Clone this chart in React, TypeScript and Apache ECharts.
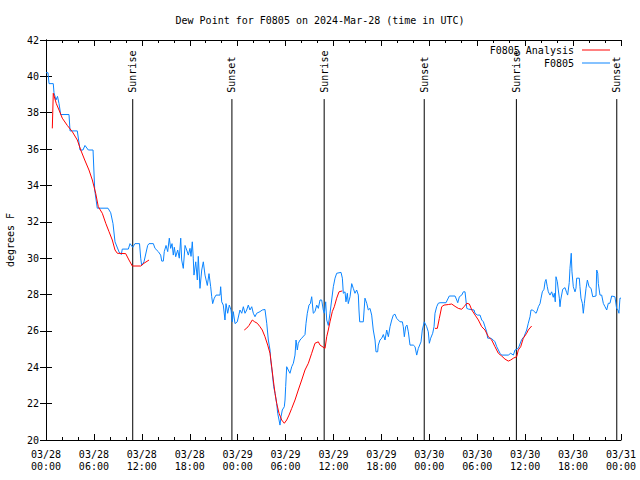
import React, { useEffect, useRef } from "react";
import * as echarts from "echarts";

const FONT = "DejaVu Sans Mono";

const titleText = "Dew Point for F0805 on 2024-Mar-28 (time in UTC)";
const yName = "degrees F";
const dayLabels = ["03/28", "03/29", "03/30", "03/31"];

// hours since 03/28 00:00 UTC
const sunTimes = [10.86, 23.28, 34.83, 47.36, 58.9, 71.47];
const sunLabels = ["Sunrise", "Sunset", "Sunrise", "Sunset", "Sunrise", "Sunset"];

// F0805 observations [hour, dew point F]
const obs: number[][] = [
  [0.0, 40.2], [0.25, 40.2], [0.38, 39.6], [0.91, 39.6], [1.0, 39.1], [1.25, 38.7], [1.44, 38.9],
  [1.63, 38.5], [1.84, 37.9], [2.88, 37.9], [3.01, 37.0], [3.92, 37.0], [4.26, 35.95], [4.63, 35.95],
  [4.88, 36.2], [5.3, 35.95], [5.89, 35.95], [6.1, 33.75], [6.42, 32.75], [7.76, 32.75], [8.1, 32.5],
  [8.39, 31.9], [8.64, 30.9], [9.14, 30.35], [9.43, 30.2], [9.55, 30.5], [10.31, 30.5], [10.52, 30.8],
  [10.86, 30.6], [11.14, 30.8], [11.71, 30.8], [11.86, 30.0], [11.98, 29.6], [12.27, 29.8], [12.73, 30.7],
  [12.9, 30.8], [13.44, 30.8], [13.65, 30.54], [14.06, 30.36], [14.36, 30.17], [14.49, 29.84], [14.69, 29.84],
  [14.81, 30.36], [15.03, 30.7], [15.24, 30.36], [15.44, 31.1], [15.61, 30.54], [15.78, 30.8], [15.94, 30.17],
  [16.07, 30.6], [16.24, 30.08], [16.49, 30.45], [16.69, 30.0], [16.87, 31.1], [16.99, 29.9], [17.19, 29.44],
  [17.41, 30.7], [17.62, 30.45], [17.82, 30.17], [18.03, 30.54], [18.16, 30.1], [18.32, 30.9], [18.44, 30.0],
  [18.53, 29.07], [18.75, 29.8], [18.95, 28.8], [19.07, 30.1], [19.28, 28.34], [19.5, 29.35], [19.7, 29.8],
  [19.91, 29.07], [20.2, 28.5], [20.41, 29.15], [20.62, 28.43], [20.75, 27.88], [20.87, 27.5], [21.07, 27.8],
  [21.29, 27.97], [21.79, 27.97], [21.87, 28.43], [22.0, 27.6], [22.2, 27.42], [22.41, 26.6], [22.54, 27.5],
  [22.75, 26.97], [22.95, 27.42], [23.17, 27.15], [23.33, 26.5], [23.45, 27.06], [23.67, 26.4], [23.95, 26.5],
  [24.29, 27.15], [24.51, 26.97], [24.71, 27.33], [24.92, 26.97], [25.13, 27.15], [25.33, 27.42], [25.54, 27.15],
  [25.76, 27.33], [25.96, 26.97], [26.17, 26.78], [26.38, 26.97], [26.8, 27.06], [27.08, 27.15], [27.42, 27.18],
  [27.64, 26.42], [27.84, 25.5], [28.05, 24.95], [28.14, 24.4], [28.34, 23.67], [28.51, 22.93], [28.68, 22.57],
  [28.89, 22.0], [29.01, 21.47], [29.18, 21.1], [29.3, 20.82], [29.43, 21.28], [29.59, 21.65], [29.84, 21.83],
  [29.93, 22.2], [30.01, 22.93], [30.14, 24.03], [30.34, 23.85], [30.55, 23.67], [30.77, 24.03], [30.97, 24.22],
  [31.18, 24.67], [31.31, 25.5], [31.47, 24.95], [31.59, 25.32], [31.81, 25.5], [32.02, 25.6], [32.43, 25.8],
  [32.56, 26.42], [32.72, 26.97], [32.93, 27.42], [33.1, 27.5], [33.27, 27.88], [33.47, 26.97], [33.68, 27.06],
  [33.9, 27.42], [34.1, 27.24], [34.31, 27.7], [34.52, 27.7], [34.72, 27.15], [34.85, 26.97], [35.02, 27.6],
  [35.15, 26.6], [35.35, 26.3], [35.56, 26.97], [35.77, 27.7], [35.98, 28.43], [36.19, 28.9], [36.4, 29.17],
  [36.94, 29.22], [37.11, 28.9], [37.23, 28.07], [37.44, 28.15], [37.56, 27.6], [37.73, 28.07], [37.85, 27.5],
  [38.07, 27.88], [38.28, 28.6], [38.48, 28.34], [38.69, 28.07], [38.9, 28.25], [39.11, 27.97], [39.19, 27.15],
  [39.28, 26.5], [39.73, 26.5], [39.94, 27.8], [40.16, 27.52], [40.36, 27.15], [40.57, 27.24], [40.78, 26.87],
  [40.98, 26.05], [41.2, 25.5], [41.32, 24.85], [41.53, 24.85], [41.61, 25.22], [41.82, 25.5], [42.04, 25.6],
  [42.24, 25.8], [42.45, 25.5], [42.66, 26.05], [42.87, 25.68], [43.08, 26.23], [43.29, 26.6], [43.49, 26.87],
  [43.7, 26.92], [43.91, 26.69], [44.33, 26.5], [44.62, 26.5], [44.74, 26.23], [44.87, 25.68], [45.04, 26.23],
  [45.2, 26.32], [45.37, 25.95], [45.58, 25.22], [45.99, 25.22], [46.21, 25.13], [46.42, 24.67], [46.62, 25.04],
  [46.96, 25.4], [47.12, 26.05], [47.37, 26.5], [47.67, 26.23], [47.87, 25.95], [48.0, 25.32], [48.17, 25.6],
  [48.42, 25.87], [48.59, 26.23], [48.71, 26.97], [48.92, 27.33], [49.12, 27.52], [49.34, 27.55], [50.09, 27.55],
  [50.25, 27.7], [50.5, 27.92], [51.22, 27.92], [51.43, 27.7], [51.56, 27.55], [51.76, 27.88], [52.06, 27.97],
  [52.26, 28.15], [52.47, 28.15], [52.69, 27.24], [52.89, 27.2], [53.6, 27.15], [53.72, 26.97], [54.01, 26.87],
  [54.35, 26.87], [54.56, 26.6], [54.77, 26.5], [55.18, 25.95], [55.31, 25.6], [55.69, 25.6], [56.01, 25.5],
  [56.22, 25.4], [56.44, 25.13], [56.85, 24.77], [57.06, 24.67], [57.89, 24.67], [58.19, 24.77], [58.52, 24.67],
  [58.73, 24.95], [59.14, 25.04], [59.57, 25.53], [59.85, 25.68], [60.19, 26.05], [60.39, 26.42], [60.61, 26.78],
  [60.73, 27.15], [60.94, 27.15], [61.14, 27.06], [61.37, 26.97], [61.53, 27.15], [61.65, 27.33], [61.86, 27.5],
  [61.99, 27.8], [62.15, 28.15], [62.36, 28.29], [62.49, 28.7], [62.61, 28.83], [62.77, 28.43], [62.9, 28.15],
  [63.11, 27.97], [63.32, 28.15], [63.52, 27.85], [63.65, 28.07], [63.77, 27.6], [63.86, 28.98], [64.03, 28.7],
  [64.15, 28.25], [64.28, 27.8], [64.36, 27.33], [64.45, 27.7], [64.7, 28.29], [64.99, 28.38], [65.2, 28.1],
  [65.32, 27.97], [65.52, 28.66], [65.61, 29.44], [65.7, 29.9], [65.77, 30.27], [65.86, 29.25], [66.03, 28.43],
  [66.24, 28.15], [66.36, 28.34], [66.45, 28.9], [66.78, 28.9], [66.86, 28.43], [66.99, 27.8], [67.16, 27.52],
  [67.28, 26.97], [67.41, 27.52], [67.62, 28.34], [67.79, 28.8], [68.0, 28.43], [68.25, 28.34], [68.46, 27.88],
  [68.87, 27.92], [68.96, 29.35], [69.09, 29.17], [69.16, 28.6], [69.37, 27.97], [69.58, 27.97], [69.79, 27.51],
  [70.0, 27.33], [70.21, 27.15], [70.41, 27.52], [70.62, 27.52], [70.83, 27.92], [71.24, 27.88], [71.45, 27.24],
  [71.62, 27.15], [71.74, 26.97], [71.87, 27.8], [72.0, 27.8],
];

// F0805 Analysis segments [hour, dew point F]
const analysis1: number[][] = [
  [0.79, 37.14], [0.91, 39.07], [1.29, 38.5], [1.63, 38.15], [2.04, 37.7], [2.67, 37.3], [3.29, 36.96],
  [3.92, 36.5], [4.35, 35.95], [4.85, 35.4], [5.38, 34.85], [5.8, 34.3], [6.22, 33.57], [6.55, 32.83],
  [7.05, 32.47], [7.48, 31.92], [7.89, 31.46], [8.3, 31.0], [8.64, 30.45], [8.93, 30.27], [9.98, 30.25],
  [10.39, 29.9], [10.81, 29.57], [11.86, 29.57], [12.27, 29.72], [12.9, 29.9],
];
const analysis2: number[][] = [
  [24.83, 26.05], [25.13, 26.15], [25.42, 26.3], [25.83, 26.6], [26.13, 26.5], [26.46, 26.42], [26.8, 26.23],
  [27.08, 26.05], [27.42, 25.68], [27.76, 25.22], [28.05, 24.77], [28.26, 24.03], [28.46, 23.3], [28.68, 22.57],
  [28.89, 22.0], [29.18, 21.47], [29.51, 21.1], [29.84, 20.92], [30.14, 21.1], [30.43, 21.37], [30.77, 21.74],
  [31.18, 22.2], [31.59, 22.75], [32.02, 23.3], [32.43, 23.85], [32.85, 24.22], [33.27, 24.77], [33.68, 25.32],
  [34.1, 25.4], [34.31, 25.22], [34.94, 25.04], [35.15, 25.68], [35.35, 26.05], [35.56, 26.5], [35.85, 27.06],
  [36.1, 27.33], [36.4, 27.8], [36.69, 28.15], [37.1, 28.2],
];
const analysis3: number[][] = [
  [48.71, 26.14], [49.0, 26.14], [49.25, 26.69], [49.55, 27.33], [49.84, 27.42], [50.38, 27.45], [50.8, 27.48],
  [51.22, 27.35], [51.63, 27.24], [52.05, 27.19], [52.38, 27.35], [52.69, 27.52], [53.01, 27.48], [53.32, 27.15],
  [53.73, 26.87], [54.14, 26.6], [54.56, 26.23], [54.97, 26.05], [55.39, 25.68], [55.81, 25.5], [56.22, 25.13],
  [56.64, 24.77], [57.06, 24.62], [57.47, 24.45], [57.89, 24.34], [58.19, 24.4], [58.52, 24.5], [58.94, 24.58],
  [59.14, 24.95], [59.44, 25.13], [59.77, 25.6], [60.19, 25.87], [60.39, 26.05], [60.81, 26.27],
];

const RED = "#ff0000";
const BLUE = "#0a84ff";

function xLabel(h: number): string {
  const d = Math.floor(h / 24);
  const hh = Math.round(h - d * 24);
  return dayLabels[d] + "\n" + String(hh).padStart(2, "0") + ":00";
}

export default function App() {
  const ref = useRef<HTMLDivElement>(null);
  useEffect(() => {
    if (!ref.current) return;
    document.body.style.margin = "0";
    const chart = echarts.init(ref.current, null, { renderer: "svg" });
    const axisLine = { show: true, lineStyle: { color: "#000", width: 1 } };
    const xCommon = {
      type: "value" as const,
      min: 0,
      max: 72,
      interval: 6,
      axisLine,
      splitLine: { show: false },
      axisTick: { show: true, inside: true, length: 6, lineStyle: { color: "#000" } },
      minorTick: { show: true, splitNumber: 3, length: 3, lineStyle: { color: "#000" } },
      minorSplitLine: { show: false },
    };
    const yCommon = {
      type: "value" as const,
      min: 20,
      max: 42,
      interval: 2,
      axisLine,
      splitLine: { show: false },
      axisTick: { show: true, inside: true, length: 6, lineStyle: { color: "#000" } },
    };
    const lineSeries = (name: string, data: number[][], color: string, z: number) => ({
      type: "line" as const,
      name,
      data,
      showSymbol: false,
      symbol: "none",
      lineStyle: { color, width: 1 },
      itemStyle: { color },
      z,
      silent: true,
    });
    chart.setOption({
      animation: false,
      backgroundColor: "#fff",
      title: {
        text: titleText,
        left: "center",
        top: 10,
        textStyle: { fontFamily: FONT, fontSize: 10, fontWeight: "normal", color: "#000" },
      },
      legend: [
        {
          data: ["F0805 Analysis"],
          right: 30,
          top: 45,
          align: "right",
          icon: "rect",
          itemWidth: 28,
          itemHeight: 1,
          selectedMode: false,
          padding: 0,
          textStyle: { fontFamily: FONT, fontSize: 10, color: "#000", padding: [0, 3, 0, 0] },
        },
        {
          data: ["F0805"],
          right: 30,
          top: 58,
          align: "right",
          icon: "rect",
          itemWidth: 28,
          itemHeight: 1,
          selectedMode: false,
          padding: 0,
          textStyle: { fontFamily: FONT, fontSize: 10, color: "#000", padding: [0, 3, 0, 0] },
        },
      ],
      grid: { left: 46, right: 19, top: 40, bottom: 40, containLabel: false, outerBoundsMode: "none" },
      xAxis: [
        {
          ...xCommon,
          position: "bottom",
          axisLabel: {
            show: true,
            formatter: (v: number) => xLabel(v),
            fontFamily: FONT,
            fontSize: 10,
            color: "#000",
            lineHeight: 12,
            margin: 8,
          },
        },
        { ...xCommon, position: "top", axisLabel: { show: false } },
      ],
      yAxis: [
        {
          ...yCommon,
          position: "left",
          name: yName,
          nameLocation: "middle",
          nameRotate: 90,
          nameGap: 31,
          nameTextStyle: { fontFamily: FONT, fontSize: 10, color: "#000" },
          axisLabel: { show: true, fontFamily: FONT, fontSize: 10, color: "#000", margin: 7 },
        },
        { ...yCommon, position: "right", axisLabel: { show: false } },
      ],
      series: [
        {
          type: "custom",
          name: "sun",
          xAxisIndex: 0,
          yAxisIndex: 0,
          clip: false,
          silent: true,
          z: 1,
          data: sunTimes.map((t) => [t, 30]),
          encode: { x: 0, y: 1 },
          renderItem: (params: any, api: any) => {
            const h = api.value(0);
            const top = api.coord([h, 38.75]);
            const bot = api.coord([h, 20]);
            const lab = api.coord([h, 39.1]);
            return {
              type: "group",
              children: [
                {
                  type: "line",
                  shape: { x1: top[0], y1: top[1], x2: bot[0], y2: bot[1] },
                  style: { stroke: "#000", lineWidth: 1 },
                },
                {
                  type: "text",
                  x: lab[0],
                  y: lab[1],
                  rotation: Math.PI / 2,
                  style: {
                    text: sunLabels[params.dataIndex],
                    fontFamily: FONT,
                    fontSize: 10,
                    fill: "#000",
                    align: "left",
                    verticalAlign: "middle",
                    textAlign: "left",
                    textVerticalAlign: "middle",
                  },
                },
              ],
            };
          },
        },
        lineSeries("F0805 Analysis", analysis1, RED, 3),
        lineSeries("F0805 Analysis", analysis2, RED, 3),
        lineSeries("F0805 Analysis", analysis3, RED, 3),
        lineSeries("F0805", obs, BLUE, 2),
      ],
    });
    return () => chart.dispose();
  }, []);
  return <div ref={ref} style={{ width: 640, height: 480 }} />;
}
